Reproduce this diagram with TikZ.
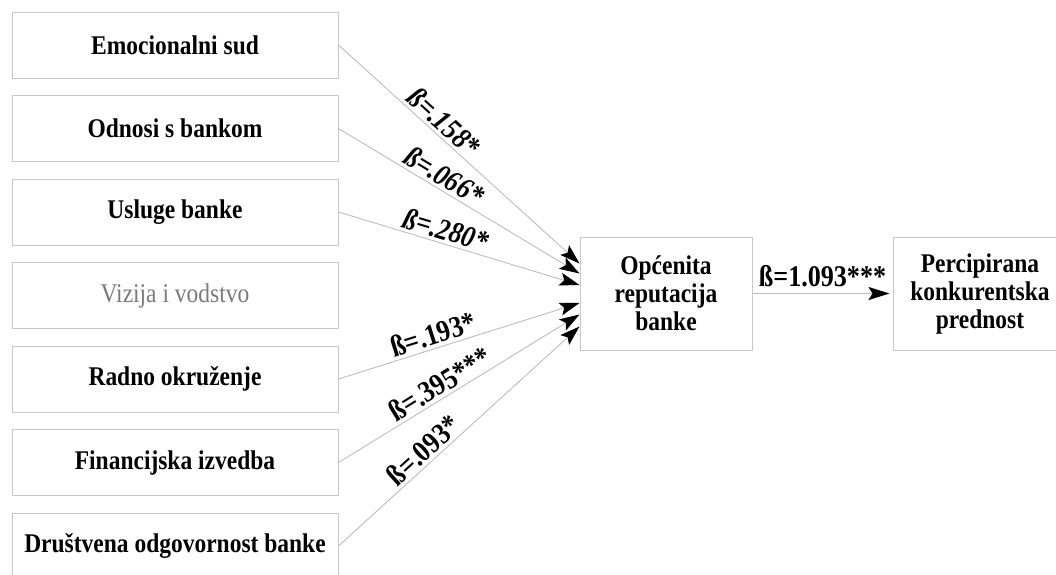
\documentclass[tikz,border=0pt]{standalone}
\usepackage{fontspec}
\setmainfont{Liberation Serif}[FakeStretch=0.87]
\usetikzlibrary{arrows.meta,calc}
\definecolor{boxgray}{HTML}{C8C8C8}
\definecolor{linegray}{HTML}{BDBDBD}
\definecolor{txtgray}{HTML}{7A7A7A}
\begin{document}
\begin{tikzpicture}[x=1pt,y=-1pt,
  box/.style={draw=boxgray, line width=1pt, minimum width=326pt, minimum height=66pt, inner sep=0pt,
    font=\fontsize{27}{28}\selectfont\bfseries, text=black},
  bigbox/.style={draw=boxgray, line width=1pt, minimum width=172pt, minimum height=113pt, inner sep=0pt,
    align=center, font=\fontsize{27}{28}\selectfont\bfseries, text=black},
  conn/.style={draw=linegray, line width=0.9pt, -{Stealth[length=20pt,width=13pt,inset=4pt,color=black]}},
  lab/.style={font=\fontsize{30}{31}\selectfont\bfseries, text=black, inner sep=3pt, sloped, above},
  labi/.style={lab, font=\fontsize{30}{31}\selectfont\bfseries\itshape}
]
\path[use as bounding box] (0,0) rectangle (1056,574);
\clip (0,0) rectangle (1056,574);

\node[box] (b1) at (175,45) {Emocionalni sud};
\node[box] (b2) at (175,128.5) {Odnosi s bankom};
\node[box] (b3) at (175,212) {Usluge banke};
\node[box, font=\fontsize{27}{28}\selectfont, text=txtgray] (b4) at (175,295.5) {Vizija i vodstvo};
\node[box] (b5) at (175,379) {Radno okruženje};
\node[box] (b6) at (175,462.5) {Financijska izvedba};
\node[box] (b7) at (175,546) {Društvena odgovornost banke};

\node[bigbox] (mid) at (666,293.5) {Općenita\\reputacija\\banke};
\node[bigbox, minimum width=174pt] (out) at (980,293.5) {Percipirana\\konkurentska\\prednost};

\coordinate (t1) at ([yshift=30pt]mid.west);
\coordinate (t2) at ([yshift=20pt]mid.west);
\coordinate (t3) at ([yshift=8.5pt]mid.west);
\coordinate (t5) at ([yshift=-9.5pt]mid.west);
\coordinate (t6) at ([yshift=-21pt]mid.west);
\coordinate (t7) at ([yshift=-33pt]mid.west);

\draw[conn] (b1.east) -- node[labi, pos=0.4] {ß=.158*} (t1);
\draw[conn] (b2.east) -- node[labi, pos=0.41] {ß=.066*} (t2);
\draw[conn] (b3.east) -- node[labi, pos=0.43] {ß=.280*} (t3);
\draw[conn] (b5.east) -- node[lab, pos=0.41] {ß=.193*} (t5);
\draw[conn] (b6.east) -- node[lab, pos=0.45] {ß=.395***} (t6);
\draw[conn] (b7.east) -- node[lab, pos=0.39] {ß=.093*} (t7);

\draw[conn, line width=1.6pt, shorten >=3pt, -{Stealth[length=21pt,width=13pt,inset=4pt,color=black]}] (mid) -- node[lab, inner sep=6pt] {ß=1.093***} (out);
\end{tikzpicture}
\end{document}
